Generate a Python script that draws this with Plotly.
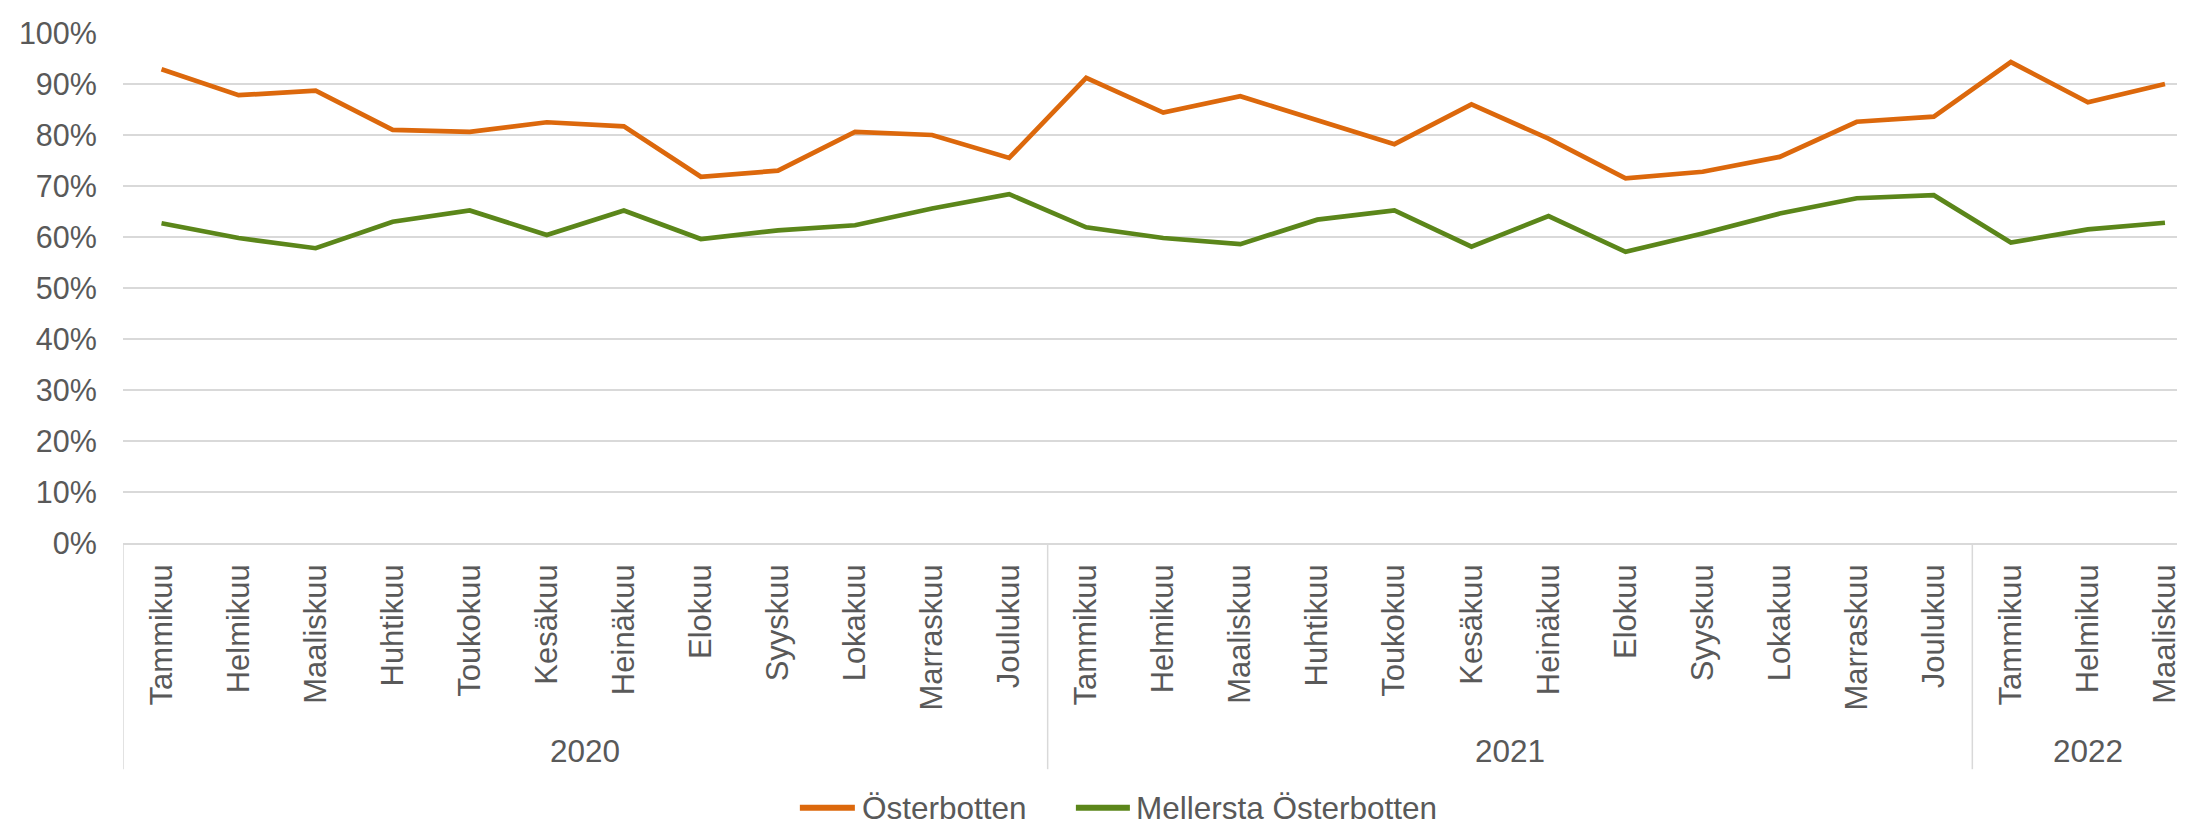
import plotly.graph_objects as go

months = ["Tammikuu", "Helmikuu", "Maaliskuu", "Huhtikuu", "Toukokuu", "Kesäkuu",
          "Heinäkuu", "Elokuu", "Syyskuu", "Lokakuu", "Marraskuu", "Joulukuu"]
categories = months + months + months[:3]
years = ["2020", "2021", "2022"]
year_counts = [12, 12, 3]

osterbotten = [92.9, 87.8, 88.7, 81.0, 80.6, 82.5, 81.7, 71.8, 73.0, 80.6, 80.0, 75.5,
               91.2, 84.4, 87.6, 82.8, 78.2, 86.0, 79.3, 71.5, 72.8, 75.7, 82.6, 83.6,
               94.3, 86.4, 90.0]
mellersta = [62.7, 59.8, 57.8, 63.0, 65.2, 60.4, 65.2, 59.6, 61.3, 62.3, 65.6, 68.4,
             61.9, 59.8, 58.6, 63.4, 65.2, 58.1, 64.1, 57.1, 60.7, 64.6, 67.6, 68.2,
             58.9, 61.5, 62.8]
series_names = ["Österbotten", "Mellersta Österbotten"]
colors = ["#DC680C", "#5B861A"]

W, H = 2185, 825
OFF = 8  # page body margin
L, R, T, B = 115.2, 8, 17.7, 290.3
PW = W - L - R
PH = H - T - B

def sx(px):
    return (px - OFF - L) / PW

def sy(py):
    return (H - B - (py - OFF)) / PH

xs = list(range(len(categories)))
fig = go.Figure()
for name, vals, col in zip(series_names, [osterbotten, mellersta], colors):
    fig.add_trace(go.Scatter(
        x=xs, y=[v / 100 for v in vals], mode="lines", name=name,
        line=dict(color=col, width=4.7), showlegend=False,
        hoverinfo="skip"))

grey = "#595959"
gridc = "#D9D9D9"

fig.update_layout(
    width=W, height=H,
    margin=dict(l=L, r=R, t=T, b=B, pad=0),
    plot_bgcolor="white", paper_bgcolor="white",
    font=dict(family="Liberation Sans, Arial, sans-serif", color=grey, size=30),
    xaxis=dict(
        range=[-0.5, 26.26], tickmode="array", tickvals=xs, ticktext=categories,
        tickangle=-90, tickfont=dict(size=31, color=grey),
        showgrid=False, zeroline=False, showline=True, linecolor=gridc, linewidth=1.5,
        ticks="outside", ticklen=7, tickcolor="rgba(0,0,0,0)",
        fixedrange=True),
    yaxis=dict(
        range=[0, 1], tickmode="linear", tick0=0, dtick=0.1, tickformat=".0%",
        tickfont=dict(size=30.5, color=grey),
        showgrid=True, gridcolor=gridc, gridwidth=1.5, zeroline=False,
        showline=False, ticks="outside", ticklen=19, tickcolor="rgba(0,0,0,0)",
        fixedrange=True),
)

shapes = []
annotations = []
start = 0
bounds = [-0.5]
for y, n in zip(years, year_counts):
    end = start + n
    center = (start + end - 1) / 2
    annotations.append(dict(x=center, y=sy(754), xref="x", yref="paper", text=y,
                            showarrow=False, xanchor="center", yanchor="middle",
                            font=dict(size=31.5, color=grey)))
    bounds.append(end - 0.5)
    start = end
for b in bounds[:-1]:
    shapes.append(dict(type="line", xref="x", yref="paper", x0=b, x1=b, y0=0, y1=sy(772),
                       line=dict(color=gridc, width=1.5)))

leg_y = sy(811)
leg_items = [(800, 855, 860), (1076, 1130, 1134)]
for (x0, x1, tx), name, col in zip(leg_items, series_names, colors):
    shapes.append(dict(type="line", xref="paper", yref="paper", x0=sx(x0), x1=sx(x1),
                       y0=leg_y, y1=leg_y, line=dict(color=col, width=6)))
    annotations.append(dict(x=sx(tx), y=leg_y, xref="paper", yref="paper", text=name,
                            showarrow=False, xanchor="left", yanchor="middle",
                            font=dict(size=31.5, color=grey)))

fig.update_layout(shapes=shapes, annotations=annotations)
fig.write_html("out.html")
